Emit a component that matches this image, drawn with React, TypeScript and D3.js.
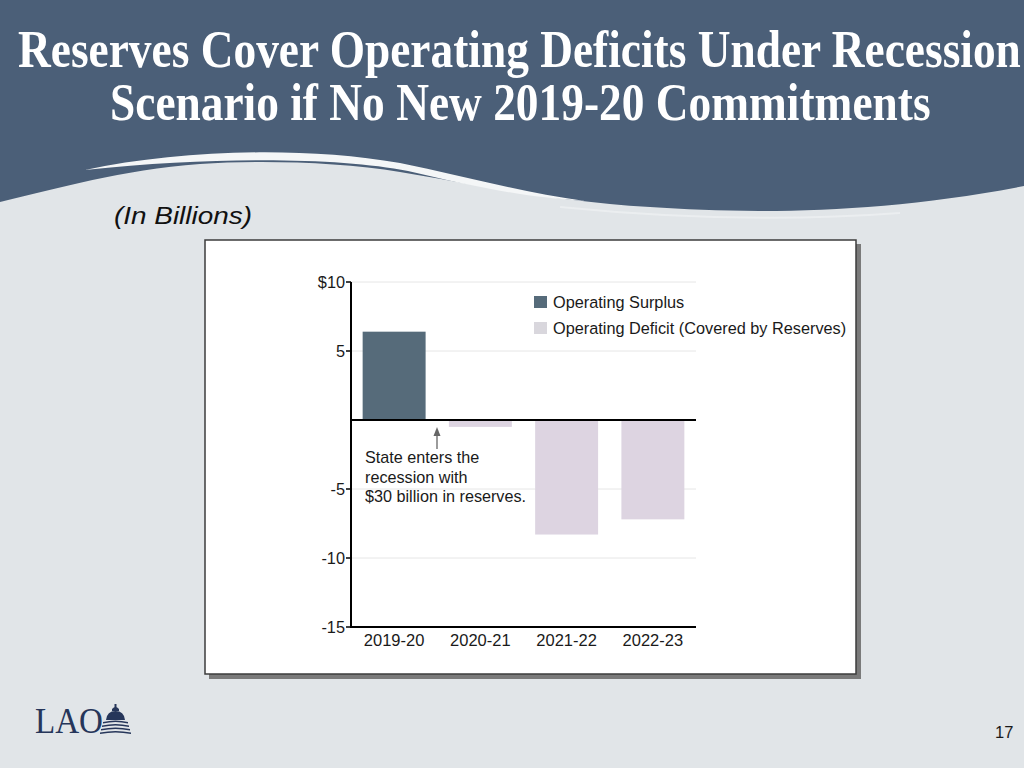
import React from "react";
import * as d3 from "d3";

const categories = ["2019-20", "2020-21", "2021-22", "2022-23"];
const values = [6.4, -0.5, -8.3, -7.2];
const yTicks = [10, 5, 0, -5, -10, -15];
const yTickLabels = ["$10", "5", "", "-5", "-10", "-15"];
const gridValues = [10, 5, -5, -10];
const legendLabels = ["Operating Surplus", "Operating Deficit (Covered by Reserves)"];
const noteLines = ["State enters the", "recession with", "$30 billion in reserves."];
const titleLines = [
  "Reserves Cover Operating Deficits Under Recession",
  "Scenario if No New 2019-20 Commitments",
];

const SURPLUS = "#566b7a";
const DEFICIT = "#ddd4e1";
const HEADER = "#4b5f78";
const BG = "#e1e5e8";
const SANS = "'Liberation Sans', Arial, Helvetica, sans-serif";
const SERIF = "'Liberation Serif', 'Times New Roman', serif";

export default function App() {
  const x = d3
    .scaleBand<string>()
    .domain(categories)
    .range([351, 696])
    .paddingInner(0.27)
    .paddingOuter(0.135);
  const y = d3.scaleLinear().domain([-15, 10]).range([627, 282]);
  const x0 = 351;
  const x1 = 696;

  return (
    <svg
      width={1024}
      height={768}
      style={{ position: "absolute", left: 0, top: 0, display: "block" }}
    >
      <rect x={0} y={0} width={1024} height={768} fill={BG} />
      {/* header */}
      <path
        d="M0,202 C60,188 120,170 200,164 C260,160 340,162 400,172 C470,183 540,200 650,207 C750,214 880,214 1024,186 V0 H0 Z"
        fill={HEADER}
      />
      <path
        d="M85,170 C180,150 300,146 400,163 C460,175 520,192 585,201 C520,197 468,185 408,171 C340,158 220,156 85,170 Z"
        fill="#f4f6f7"
      />
      <path
        d="M560,207 C660,217 780,222 900,213"
        fill="none"
        stroke="#f2f4f5"
        strokeWidth={2}
        opacity={0.6}
      />
      {titleLines.map((t, i) => (
        <text
          key={i}
          transform={`translate(${i === 0 ? 18 : 110},${i === 0 ? 67 : 120}) scale(0.873,1)`}
          x={0}
          y={0}
          fill="#ffffff"
          fontFamily={SERIF}
          fontWeight="bold"
          fontSize={52}
        >
          {t}
        </text>
      ))}
      <text
        x={114}
        y={224}
        fontFamily={SANS}
        fontStyle="italic"
        fontSize={24}
        fill="#111"
        textLength={138}
        lengthAdjust="spacingAndGlyphs"
      >
        (In Billions)
      </text>

      {/* chart frame */}
      <rect x={209} y={244} width={652} height={435} fill="#7a7a7a" />
      <rect x={205} y={240} width={651} height={434} fill="#ffffff" stroke="#3c3c3c" strokeWidth={1.5} />

      {/* gridlines */}
      {gridValues.map((v) => (
        <line key={v} x1={x0} x2={x1} y1={y(v)} y2={y(v)} stroke="#e6e6e6" strokeWidth={1} />
      ))}

      {/* bars */}
      {categories.map((c, i) => {
        const v = values[i];
        return (
          <rect
            key={c}
            x={x(c)}
            width={x.bandwidth()}
            y={y(Math.max(0, v))}
            height={Math.abs(y(v) - y(0))}
            fill={v >= 0 ? SURPLUS : DEFICIT}
          />
        );
      })}

      {/* axes */}
      <line x1={x0} x2={x0} y1={y(10)} y2={y(-15)} stroke="#000" strokeWidth={2} />
      <line x1={x0 - 1} x2={x1} y1={y(0)} y2={y(0)} stroke="#000" strokeWidth={2} />
      <line x1={x0 - 1} x2={x1} y1={y(-15)} y2={y(-15)} stroke="#000" strokeWidth={2} />
      {yTicks.map((v, i) =>
        v === 0 ? null : (
          <g key={v}>
            <line x1={x0 - 5} x2={x0} y1={y(v)} y2={y(v)} stroke="#000" strokeWidth={1.5} />
            <text
              x={x0 - 6}
              y={y(v) + 5.5}
              textAnchor="end"
              fontFamily={SANS}
              fontSize={16.3}
              fill="#1a1a1a"
            >
              {yTickLabels[i]}
            </text>
          </g>
        )
      )}
      {categories.map((c) => (
        <text
          key={c}
          x={(x(c) as number) + x.bandwidth() / 2}
          y={y(-15) + 19}
          textAnchor="middle"
          fontFamily={SANS}
          fontSize={16.5}
          fill="#1a1a1a"
        >
          {c}
        </text>
      ))}

      {/* legend */}
      {legendLabels.map((l, i) => (
        <g key={l}>
          <rect
            x={534}
            y={296 + i * 26}
            width={13}
            height={12}
            fill={i === 0 ? SURPLUS : "#d9d7dd"}
          />
          <text x={553} y={307.5 + i * 26} fontFamily={SANS} fontSize={16.3} fill="#1a1a1a">
            {l}
          </text>
        </g>
      ))}

      {/* annotation */}
      <line x1={437} x2={437} y1={449} y2={433} stroke="#666" strokeWidth={1.3} />
      <path d="M437,427 L433.5,436 L440.5,436 Z" fill="#666" />
      {noteLines.map((l, i) => (
        <text key={i} x={365} y={463 + i * 19.5} fontFamily={SANS} fontSize={16.2} fill="#1a1a1a">
          {l}
        </text>
      ))}

      {/* LAO logo */}
      <text
        x={35}
        y={733}
        fontFamily={SERIF}
        fontSize={36}
        fill="#26365a"
        textLength={68}
        lengthAdjust="spacingAndGlyphs"
      >
        LAO
      </text>
      <g fill="#26365a" stroke="none">
        <rect x={114.5} y={704} width={2} height={4} />
        <path d="M112,709 Q115.5,705 119,709 L119,711 L112,711 Z" />
        <path d="M106,720 Q107,711 115.5,711 Q124,711 125,720 Z" />
        <path d="M103,722 Q115.5,719 128,722 L128,723.5 Q115.5,720.5 103,723.5 Z" />
        <path d="M102,725.5 Q115.5,722.5 129,725.5 L129,727 Q115.5,724 102,727 Z" />
        <path d="M101,729 Q115.5,726 130,729 L130,730.5 Q115.5,727.5 101,730.5 Z" />
        <path d="M100,732.5 Q115.5,729.5 131,732.5 L131,734 Q115.5,731 100,734 Z" />
      </g>

      <text x={995} y={738} fontFamily={SANS} fontSize={16.5} fill="#1a1a1a">
        17
      </text>
    </svg>
  );
}
